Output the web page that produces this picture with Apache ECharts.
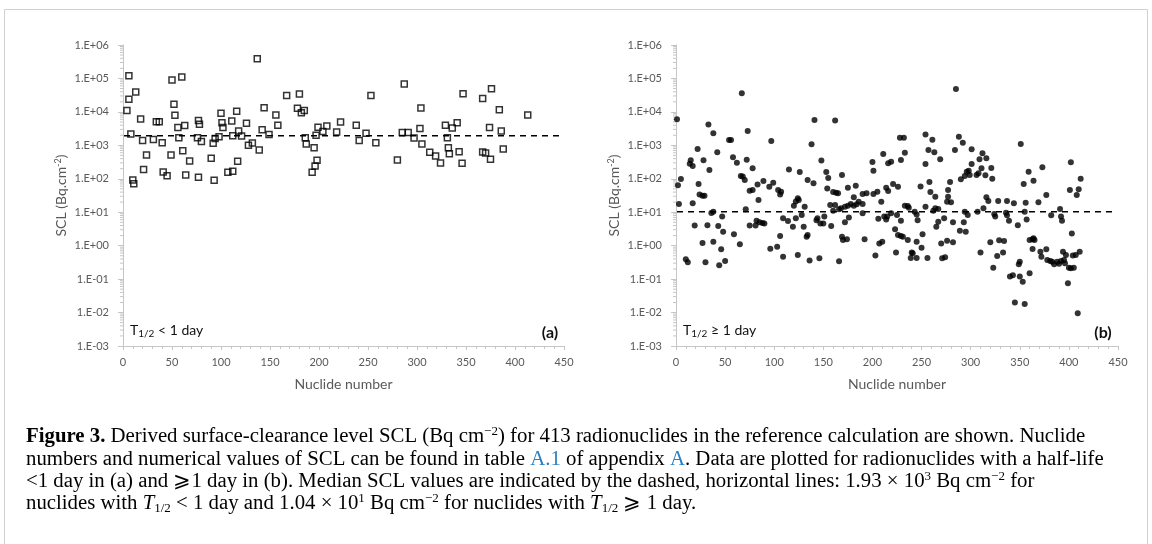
<!DOCTYPE html>
<html>
<head>
<meta charset="utf-8">
<script src="https://cdn.jsdelivr.net/npm/echarts@6/dist/echarts.min.js"></script>
<style>
html,body{margin:0;padding:0;background:#fff;}
#chart{width:1152px;height:544px;}
</style>
</head>
<body>
<div id="chart"></div>
<script>
// ---- Data ----
// Nuclides with T1/2 < 1 day : [nuclide number, SCL (Bq/cm2)]
const shortLived = [
  [4,1.1e4],[6,1.2e5],[6,2.4e4],[13,3.9e4],[8,2.2e3],[10,92],[11,71],[18,6.1e3],[20,1.4e3],[21,190],
  [24,510],[31,1.5e3],[34,5.1e3],[37,5.1e3],[40,1.2e3],[41,160],[45,124],[49,510],[50,9e4],[52,1.7e4],
  [53,7.9e3],[56,3.4e3],[57,1.7e3],[60,1.1e5],[63,3.9e3],[61,690],[64,130],[68,340],[76,1.7e3],[77,5.5e3],
  [78,4.3e3],[80,1.3e3],[77,111],[90,410],[92,1.15e3],[93,90],[94,1.6e3],[98,1.8e3],[100,9.1e3],[101,4.7e3],
  [102,3.4e3],[107,156],[112,168],[112,1.95e3],[111,5.3e3],[116,1.04e4],[117,333],[118,2.7e3],[121,1.9e3],[126,4.6e3],
  [128,1.0e3],[132,1.17e3],[137,3.9e5],[139,726],[144,1.34e4],[142,2.9e3],[149,2.1e3],[156,8.1e3],[158,4.0e3],[167,3.1e4],
  [180,3.4e4],[178,1.28e4],[182,9.5e3],[185,1.1e4],[186,1.7e3],[187,1.1e3],[195,850],[197,2.0e3],[199,3.5e3],[198,357],
  [196,241],[193,156],[208,3.8e3],[204,2.6e3],[218,2.5e3],[222,5.0e3],[238,4.0e3],[241,1.4e3],[248,2.3e3],[253,3.1e4],
  [258,1.2e3],[280,365],[285,2.4e3],[287,6.8e4],[291,2.4e3],[297,1.66e3],[303,3.2e3],[304,1.3e4],[305,1.1e3],[313,620],
  [319,481],[324,297],[329,4.0e3],[331,1.7e3],[332,850],[333,562],[336,3.3e3],[341,4.7e3],[343,645],[346,290],
  [347,3.5e4],[367,2.5e4],[376,4.9e4],[367,630],[370,590],[374,3.4e3],[375,383],[384,1.16e4],[386,2.7e3],[388,776],
  [413,8.1e3]
];
// Nuclides with T1/2 >= 1 day
const longLived = [
  [67,3.6e4],[1,6.0e3],[141,5.7e3],[33,4.2e3],[73,2.7e3],[38,2.3e3],[54,1.44e3],[56,1.44e3],[97,1.35e3],[138,1.07e3],
  [22,780],[42,620],[58,440],[72,370],[15,360],[14,280],[17,240],[28,360],[62,300],[148,350],
  [34,183],[78,205],[115,191],[126,160],[66,121],[68,116],[70,92],[5,98],[2,64],[134,92],
  [140,73],[89,86],[83,68],[75,44],[78,46],[84,23],[95,58],[99,76],[104,46],[106,34],
  [107,41],[23,70],[24,34],[27,31],[29,31],[3,17.6],[17,18.5],[124,26],[125,23],[122,21],
  [120,15.7],[131,14.7],[71,12.2],[36,9.5],[38,10.4],[47,7.5],[128,8.3],[122,6.6],[109,6.6],[114,5.5],
  [119,3.7],[130,3.7],[144,6.6],[143,5.8],[147,4.6],[82,5.6],[85,5.0],[88,4.75],[90,4.6],[75,4.0],
  [81,4.0],[19,4.0],[32,4.1],[43,3.9],[48,2.6],[59,2.2],[38,1.3],[27,1.2],[46,0.78],[65,1.1],
  [96,0.81],[103,0.93],[106,1.95],[109,0.47],[124,0.53],[133,1.86],[134,2.1],[136,0.36],[146,0.42],[10,0.39],
  [12,0.32],[30,0.32],[44,0.26],[50,0.35],
  [285,4.8e4],[162,5.5e3],[254,2.1e3],[228,1.7e3],[232,1.7e3],[261,1.48e3],[288,1.8e3],[292,1.2e3],[257,724],[263,617],
  [284,724],[269,381],[254,276],[233,604],[211,551],[229,364],[216,290],[219,324],[200,317],[201,175],
  [153,160],[155,105],[169,130],[154,51],[160,40],[163,38],[165,37],[175,54],[183,62],[190,35],
  [194,37],[201,35],[205,41],[214,54],[216,43],[221,70],[226,58],[249,59],[258,80],[259,40],
  [264,29],[277,46],[277,29],[279,80],[290,96],[294,121],[296,163],[276,20.6],[280,19.7],[181,28],
  [178,17.6],[181,15.7],[184,17.2],[186,20.6],[172,14.7],[175,15.7],[168,13.1],[157,16.4],[162,16.4],[160,11.1],
  [166,12.2],[190,17.6],[190,9.3],[209,20.6],[233,15.7],[236,15.3],[237,13.7],[254,14.7],[243,10.4],[245,8.6],
  [262,11.1],[264,13.1],[267,12.5],[219,9.3],[225,8.3],[212,7.4],[214,6.1],[215,7.4],[206,6.4],[151,7.4],
  [150,4.6],[176,7.0],[172,5.0],[158,3.9],[229,5.6],[246,5.8],[273,6.6],[267,5.2],[265,3.7],[282,5.0],
  [293,5.0],[295,2.6],[289,2.8],[223,3.1],[226,2.1],[229,1.95],[231,1.86],[236,1.48],[251,2.2],[245,1.3],
  [250,0.87],[169,1.86],[170,1.48],[174,1.55],[192,1.55],[207,1.17],[210,1.32],[270,1.17],[276,1.41],[282,1.26],
  [166,0.34],[203,0.51],[224,0.62],[240,0.62],[241,0.59],[239,0.43],[245,0.43],[256,0.43],[271,0.42],[274,0.45],
  [351,1.1e3],[301,760],[312,575],[316,408],[309,381],[301,276],[311,205],[321,210],[298,175],[299,130],
  [306,130],[308,146],[315,127],[322,101],[359,163],[373,220],[402,310],[364,88],[354,70],[412,101],
  [401,46],[410,49],[408,33],[377,33],[316,28],[318,21.6],[328,21.6],[337,21.6],[344,18.4],[356,19.3],
  [369,19.7],[313,13.1],[307,10.4],[294,10.4],[297,8.3],[324,8.9],[325,7.4],[336,9.7],[337,8.1],[355,10.4],
  [357,6.1],[339,5.6],[348,4.1],[382,8.1],[391,12.5],[392,7.4],[393,5.6],[403,2.3],[320,1.26],[329,1.44],
  [334,1.38],[360,1.48],[363,1.55],[365,1.48],[364,1.66],[363,0.79],[310,0.62],[333,0.63],[327,0.49],[323,0.22],
  [371,0.66],[372,0.47],[377,0.78],[378,0.37],[381,0.35],[383,0.33],[385,0.28],[388,0.33],[390,0.29],[392,0.35],
  [395,0.37],[396,0.30],[394,0.66],[397,0.53],[404,0.51],[407,0.53],[411,0.66],[400,0.22],[402,0.21],[405,0.22],
  [399,0.075],[340,0.12],[343,0.13],[349,0.28],[350,0.33],[350,0.12],[353,0.084],[360,0.15],[345,0.020],[355,0.018],
  [409,0.0095]
];
// Median SCL values
const medianShort = 1930;
const medianLong = 10.4;
const medianRange = [1, 445];
// Axis ticks / labels
const xTicks = [0, 50, 100, 150, 200, 250, 300, 350, 400, 450];
const yExponents = [-3, -2, -1, 0, 1, 2, 3, 4, 5, 6];
const yTickLabels = ['1.E-03','1.E-02','1.E-01','1.E+00','1.E+01','1.E+02','1.E+03','1.E+04','1.E+05','1.E+06'];
const yMinorMultipliers = [2, 3, 4, 5, 6, 7, 8, 9];

// ---- Styling ----
const AX = '#c6c6c6';
const LBL = '#595959';
const SANS = 'Lato, "Liberation Sans", sans-serif';
const SERIF = '"Liberation Serif", "DejaVu Serif", serif';
const CAP = 20.8;

const minorTickData = [];
yExponents.slice(0, -1).forEach(e => yMinorMultipliers.forEach(m => minorTickData.push([0, m * Math.pow(10, e)])));

function yLabel(v) {
  const e = Math.round(Math.log10(v));
  const i = yExponents.indexOf(e);
  return i >= 0 ? yTickLabels[i] : '';
}

function xAxisCfg(gi) {
  return {
    gridIndex: gi, type: 'value', min: xTicks[0], max: xTicks[xTicks.length - 1], interval: xTicks[1] - xTicks[0],
    axisLine: { show: true, lineStyle: { color: AX, width: 1 } },
    axisTick: { show: true, inside: false, length: 4, lineStyle: { color: AX } },
    minorTick: { show: true, splitNumber: 5, length: 3, lineStyle: { color: AX } },
    splitLine: { show: false },
    axisLabel: { color: LBL, fontSize: 11, fontFamily: SANS, margin: 11 },
    name: 'Nuclide number', nameLocation: 'middle', nameGap: 31,
    nameTextStyle: { color: LBL, fontSize: 14, fontFamily: SANS }
  };
}
function yAxisCfg(gi) {
  return {
    gridIndex: gi, type: 'log', logBase: 10, min: 1e-3, max: 1e6, splitNumber: 10,
    axisLine: { show: true, lineStyle: { color: AX, width: 1 } },
    axisTick: { show: true, inside: false, length: 5, lineStyle: { color: AX } },
    splitLine: { show: false },
    axisLabel: { color: LBL, fontSize: 11, fontFamily: SANS, margin: 14, formatter: yLabel },
    name: 'SCL (Bq.cm{sup|-2})', nameLocation: 'middle', nameGap: 55, nameRotate: 90,
    nameTextStyle: {
      color: LBL, fontSize: 14, fontFamily: SANS,
      rich: { sup: { fontSize: 9, fontFamily: SANS, color: LBL, verticalAlign: 'top', lineHeight: 10 } }
    }
  };
}

function minorTickSeries(gi) {
  return {
    type: 'custom', xAxisIndex: gi, yAxisIndex: gi, silent: true, z: 1,
    data: minorTickData,
    renderItem: function (params, api) {
      const p = api.coord([api.value(0), api.value(1)]);
      return { type: 'line', shape: { x1: p[0] - 3, y1: p[1], x2: p[0], y2: p[1] }, style: { stroke: AX, lineWidth: 1 } };
    }
  };
}

const chart = echarts.init(document.getElementById('chart'), null, { renderer: 'canvas' });

const capStyle = { fontSize: CAP, fontFamily: SERIF };
const capRich = {
  b: { fontSize: CAP, fontFamily: SERIF, fontWeight: 'bold', fill: '#000' },
  l: { fontSize: CAP, fontFamily: SERIF, fill: '#2a7fc0' },
  i: { fontSize: CAP, fontFamily: SERIF, fontStyle: 'italic', fill: '#000' },
  sup: { fontSize: 13, fontFamily: SERIF, verticalAlign: 'top', lineHeight: 16, fill: '#000' },
  sub: { fontSize: 13, fontFamily: SERIF, verticalAlign: 'bottom', lineHeight: 13, fill: '#000' }
};
const captionLines = [
  '{b|Figure 3.} Derived surface-clearance level SCL (Bq cm{sup|\u22122}) for 413 radionuclides in the reference calculation are shown. Nuclide',
  'numbers and numerical values of SCL can be found in table {l|A.1} of appendix {l|A}. Data are plotted for radionuclides with a half-life',
  '<1 day in (a) and \u2a7e1 day in (b). Median SCL values are indicated by the dashed, horizontal lines: 1.93 \u00d7 10{sup|3} Bq cm{sup|\u22122} for',
  'nuclides with {i|T}{sub|1/2} < 1 day and 1.04 \u00d7 10{sup|1} Bq cm{sup|\u22122} for nuclides with {i|T}{sub|1/2} \u2a7e 1 day.'
];
const captionY = [437, 460, 482, 504];

const graphics = [
  { type: 'rect', shape: { x: 4.5, y: 9.5, width: 1143, height: 560 }, style: { fill: 'none', stroke: '#d0d0d0', lineWidth: 1 }, silent: true, z: -10 }
];
captionLines.forEach((t, i) => {
  graphics.push({
    type: 'text', x: 26, y: captionY[i],
    style: Object.assign({ text: t, fill: '#000', verticalAlign: 'middle', align: 'left', lineHeight: 23, rich: capRich }, capStyle)
  });
});
const annRich = {
  sub: { fontSize: 10, fontFamily: SANS, verticalAlign: 'bottom', lineHeight: 10, fill: '#111' }
};
[['T{sub|1/2} < 1 day', 130], ['T{sub|1/2} \u2265 1 day', 683]].forEach(([t, x]) => {
  graphics.push({ type: 'text', x: x, y: 330, style: { text: t, fontSize: 14, fontFamily: SANS, fill: '#111', verticalAlign: 'middle', lineHeight: 18, rich: annRich } });
});
[['(a)', 550], ['(b)', 1103]].forEach(([t, x]) => {
  graphics.push({ type: 'text', x: x, y: 333, style: { text: t, fontSize: 16, fontWeight: 'bold', fontFamily: SANS, fill: '#111', align: 'center', verticalAlign: 'middle' } });
});

chart.setOption({
  animation: false,
  backgroundColor: '#fff',
  grid: [
    { left: 123, top: 45, width: 441, height: 301 },
    { left: 676, top: 45, width: 442, height: 301 }
  ],
  xAxis: [xAxisCfg(0), xAxisCfg(1)],
  yAxis: [yAxisCfg(0), yAxisCfg(1)],
  series: [
    minorTickSeries(0),
    minorTickSeries(1),
    {
      type: 'scatter', xAxisIndex: 0, yAxisIndex: 0, data: shortLived, symbol: 'rect', symbolSize: 6, z: 3,
      itemStyle: { color: 'rgba(255,255,255,0)', borderColor: '#000', borderWidth: 1.5 }
    },
    {
      type: 'line', xAxisIndex: 0, yAxisIndex: 0, data: medianRange.map(x => [x, medianShort]), symbol: 'none', z: 4,
      lineStyle: { color: '#000', width: 1.5, type: [6, 5] }
    },
    {
      type: 'scatter', xAxisIndex: 1, yAxisIndex: 1, data: longLived, symbol: 'circle', symbolSize: 6, z: 3,
      itemStyle: { color: '#000' }
    },
    {
      type: 'line', xAxisIndex: 1, yAxisIndex: 1, data: medianRange.map(x => [x, medianLong]), symbol: 'none', z: 4,
      lineStyle: { color: '#000', width: 1.5, type: [6, 5] }
    }
  ],
  graphic: graphics
});
</script>
</body>
</html>
